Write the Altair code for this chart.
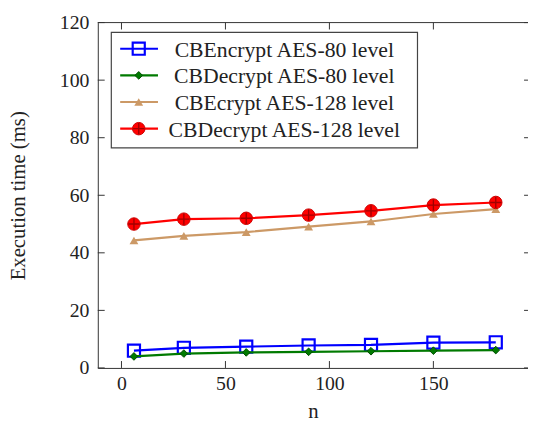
import altair as alt
import pandas as pd

# ---- data ----
n_values = [6, 30, 60, 90, 120, 150, 180]
enc_80 = [6.0, 7.0, 7.4, 7.8, 8.0, 8.8, 8.9]
dec_80 = [4.0, 5.0, 5.4, 5.6, 5.8, 6.0, 6.2]
enc_128 = [44.3, 45.9, 47.2, 49.1, 50.9, 53.5, 55.2]
dec_128 = [50.0, 51.7, 52.0, 53.1, 54.6, 56.6, 57.5]

series_names = ["CBEncrypt AES-80 level", "CBDecrypt AES-80 level",
                "CBEcrypt AES-128 level", "CBDecrypt AES-128 level"]
series_values = [enc_80, dec_80, enc_128, dec_128]
series_colors = ["#0000ff", "#007a00", "#cc9966", "#ff0000"]
series_shapes = ["square", "diamond", "triangle-up", "circle"]

x_ticks = [0, 50, 100, 150]
y_ticks = [0, 20, 40, 60, 80, 100, 120]

# ---- layout ----
W, H = 436, 350
FONT = "Liberation Serif"
TXT = "#222222"
FRAME = "#333333"

xs = alt.Scale(domain=[-11.39, 195.5], nice=False, zero=False)
ys = alt.Scale(domain=[0, 120], nice=False, zero=False)

x_axis = alt.Axis(values=x_ticks, title="n", grid=False, ticks=False, tickSize=0,
                  labelPadding=6, labelFont=FONT, labelFontSize=20, labelColor=TXT,
                  domainColor=FRAME, titleFont=FONT, titleFontSize=21,
                  titleFontWeight="normal", titleColor=TXT, titleBaseline="alphabetic",
                  titleY=50)
y_axis = alt.Axis(values=y_ticks, title="Execution time (ms)", grid=False, ticks=False,
                  tickSize=0, labelPadding=9, labelFont=FONT, labelFontSize=20,
                  labelColor=TXT, domainColor=FRAME, titleFont=FONT, titleFontSize=21,
                  titleFontWeight="normal", titleColor=TXT, titleAngle=270,
                  titleAlign="center", titleBaseline="middle", titleX=-80, titleY=H / 2)

layers = []

# inner ticks (pgfplots style) and top frame line
xt_df = pd.DataFrame({"n": x_ticks})
yt_df = pd.DataFrame({"t": y_ticks})
layers.append(alt.Chart(xt_df).mark_rule(color=FRAME, strokeWidth=1).encode(
    x=alt.X("n:Q", scale=xs, axis=x_axis), y=alt.value(H - 7), y2=alt.value(H)))
layers.append(alt.Chart(xt_df).mark_rule(color=FRAME, strokeWidth=1).encode(
    x=alt.X("n:Q", scale=xs, axis=x_axis), y=alt.value(0), y2=alt.value(7)))
layers.append(alt.Chart(yt_df).mark_rule(color=FRAME, strokeWidth=1).encode(
    y=alt.Y("t:Q", scale=ys, axis=y_axis), x=alt.value(0), x2=alt.value(7)))
layers.append(alt.Chart(yt_df).mark_rule(color=FRAME, strokeWidth=1).encode(
    y=alt.Y("t:Q", scale=ys, axis=y_axis), x=alt.value(W - 4), x2=alt.value(W)))
layers.append(alt.Chart(pd.DataFrame({"a": [0]})).mark_rule(color=FRAME, strokeWidth=1).encode(
    x=alt.value(0), x2=alt.value(W), y=alt.value(0)))

PLUS = "M-1,-0.12L1,-0.12L1,0.12L-1,0.12Z M-0.12,-1L0.12,-1L0.12,1L-0.12,1Z"

def marker_layers(df, color, shape, x_enc, y_enc):
    out = []
    if shape == "square":
        out.append(alt.Chart(df).mark_point(shape="square", size=150, filled=False,
                                            color=color, strokeWidth=2.2, opacity=1)
                   .encode(x=x_enc, y=y_enc))
    elif shape == "diamond":
        out.append(alt.Chart(df).mark_point(shape="diamond", size=60, filled=True,
                                            fill=color, stroke="#004d00", strokeWidth=1,
                                            opacity=1)
                   .encode(x=x_enc, y=y_enc))
    elif shape == "triangle-up":
        out.append(alt.Chart(df).mark_point(shape="triangle-up", size=80, filled=True,
                                            color=color, opacity=1)
                   .encode(x=x_enc, y=y_enc))
    else:
        out.append(alt.Chart(df).mark_point(shape="circle", size=160, filled=True,
                                            fill=color, stroke="#cc0000", strokeWidth=1,
                                            opacity=1)
                   .encode(x=x_enc, y=y_enc))
        out.append(alt.Chart(df).mark_point(filled=True, opacity=1).encode(
            x=x_enc, y=y_enc, shape=alt.value(PLUS), size=alt.value(130),
            color=alt.value("#a00000")))
    return out

# data series
for name, vals, color, shape in zip(series_names, series_values, series_colors, series_shapes):
    df = pd.DataFrame({"n": n_values, "ms": vals})
    xe = alt.X("n:Q", scale=xs, axis=x_axis)
    ye = alt.Y("ms:Q", scale=ys, axis=y_axis)
    layers.append(alt.Chart(df).mark_line(color=color, strokeWidth=2.2).encode(x=xe, y=ye))
    layers.extend(marker_layers(df, color, shape, xe, ye))

# legend box
one = pd.DataFrame({"a": [0]})
layers.append(alt.Chart(one).mark_rect(fill="white", stroke="#444444", strokeWidth=1.2).encode(
    x=alt.value(13.7), x2=alt.value(324), y=alt.value(10), y2=alt.value(127)))

for i, (name, color, shape) in enumerate(zip(series_names, series_colors, series_shapes)):
    ry = 26.5 + 27 * i
    layers.append(alt.Chart(one).mark_rule(color=color, strokeWidth=2.2).encode(
        x=alt.value(22.7), x2=alt.value(61), y=alt.value(ry)))
    layers.extend(marker_layers(one, color, shape, alt.value(41.5), alt.value(ry)))
    layers.append(alt.Chart(one).mark_text(text=name, font=FONT, fontSize=22, color=TXT,
                                           align="center", baseline="middle").encode(
        x=alt.value(189), y=alt.value(ry + 1)))

chart = alt.layer(*layers).properties(
    width=W, height=H,
    autosize=alt.AutoSizeParams(type="none"),
    padding={"left": 91, "top": 12, "right": 0, "bottom": 52},
).configure_view(stroke="transparent")

chart.save("out.html", embed_options={"renderer": "svg", "actions": False})
